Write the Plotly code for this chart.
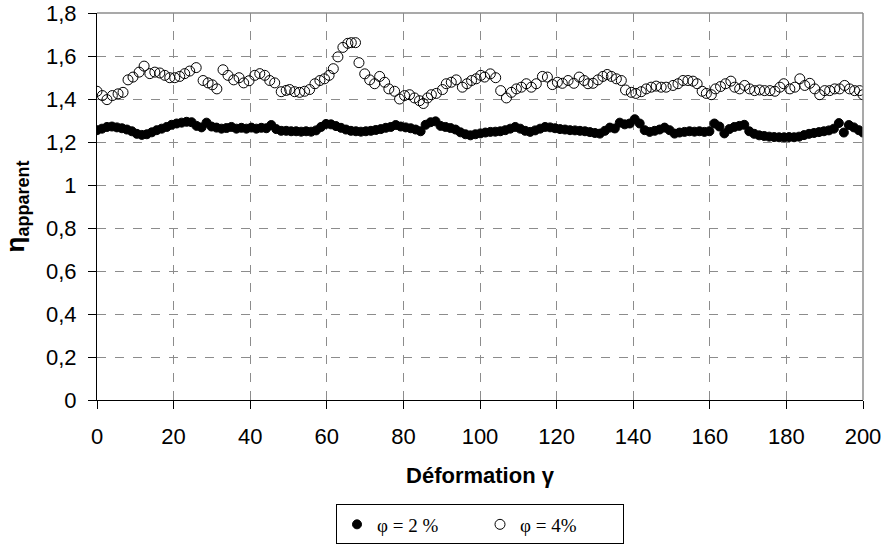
import plotly.graph_objects as go

# phi = 4 % (open circles)
gamma_4 = [
    0.0, 1.4, 2.6, 4.0, 5.5, 6.8, 8.1, 9.4, 11.0, 12.3, 13.8, 15.1, 16.4, 17.7, 19.0, 20.3,
    21.6, 22.9, 24.2, 25.9, 27.7, 29.0, 30.1, 31.3, 32.9, 34.2, 35.7, 37.1, 38.3, 39.7,
    41.2, 42.5, 43.8, 45.1, 46.4, 48.1, 49.4, 50.3, 51.6, 52.9, 54.2, 55.5, 56.9, 58.2,
    59.4, 60.6, 61.7, 62.9, 64.2, 65.5, 66.4, 67.5, 68.4, 69.9, 71.2, 72.5, 73.8, 75.1,
    76.2, 77.7, 79.0, 80.3, 81.6, 82.9, 84.2, 85.2, 86.3, 87.3, 88.6, 90.2, 91.2, 92.5,
    93.8, 95.4, 96.6, 97.8, 99.0, 100.2, 101.2, 102.7, 104.1, 105.4, 106.9, 108.2, 109.5,
    110.8, 112.1, 113.4, 114.7, 116.3, 117.6, 118.9, 120.2, 121.5, 123.0, 124.5, 125.9,
    127.2, 128.2, 129.5, 130.8, 132.1, 133.2, 134.3, 135.6, 136.9, 138.0, 139.5, 140.7,
    142.1, 143.4, 144.7, 146.0, 147.3, 148.6, 150.4, 151.7, 153.0, 154.3, 155.6, 156.7,
    158.0, 159.1, 160.4, 161.5, 162.8, 164.1, 165.5, 166.5, 167.8, 169.1, 170.4, 171.7,
    173.0, 174.3, 175.7, 177.0, 178.3, 179.3, 180.9, 182.2, 183.5, 184.8, 186.1, 187.4,
    188.7, 190.0, 191.3, 192.6, 193.9, 195.2, 196.5, 197.8, 199.1, 200.0,
]
eta_4 = [
    1.436, 1.416, 1.397, 1.416, 1.424, 1.431, 1.489, 1.502, 1.525, 1.553, 1.518, 1.525,
    1.521, 1.510, 1.499, 1.499, 1.505, 1.518, 1.530, 1.546, 1.486, 1.475, 1.466, 1.447,
    1.536, 1.510, 1.489, 1.499, 1.475, 1.485, 1.510, 1.518, 1.510, 1.486, 1.475, 1.434,
    1.440, 1.444, 1.434, 1.431, 1.436, 1.444, 1.471, 1.486, 1.494, 1.510, 1.541, 1.596,
    1.640, 1.659, 1.662, 1.662, 1.569, 1.517, 1.489, 1.471, 1.505, 1.478, 1.447, 1.436,
    1.400, 1.416, 1.420, 1.405, 1.392, 1.379, 1.405, 1.420, 1.426, 1.444, 1.471, 1.478,
    1.489, 1.455, 1.471, 1.486, 1.494, 1.510, 1.502, 1.517, 1.499, 1.439, 1.405, 1.431,
    1.447, 1.455, 1.471, 1.455, 1.471, 1.505, 1.502, 1.467, 1.478, 1.473, 1.486, 1.473,
    1.502, 1.486, 1.471, 1.473, 1.489, 1.505, 1.514, 1.505, 1.494, 1.486, 1.442, 1.431,
    1.426, 1.434, 1.447, 1.455, 1.460, 1.455, 1.455, 1.463, 1.471, 1.486, 1.486, 1.483,
    1.471, 1.436, 1.426, 1.420, 1.447, 1.458, 1.471, 1.483, 1.455, 1.447, 1.463, 1.447,
    1.439, 1.442, 1.439, 1.439, 1.436, 1.455, 1.471, 1.447, 1.455, 1.494, 1.463, 1.473,
    1.447, 1.420, 1.439, 1.439, 1.447, 1.447, 1.463, 1.447, 1.439, 1.439, 1.420,
]

# phi = 2 % (filled circles)
gamma_2 = [
    0.0, 1.3, 2.6, 3.9, 5.2, 6.5, 7.8, 9.1, 10.4, 11.7, 13.0, 14.3, 15.6, 16.9, 18.2, 19.5,
    20.8, 22.1, 23.4, 24.7, 26.0, 27.3, 28.6, 29.9, 31.2, 32.5, 33.8, 35.1, 36.4, 37.7,
    39.0, 40.3, 41.6, 42.9, 44.2, 45.5, 46.8, 48.1, 49.4, 50.7, 52.0, 53.3, 54.6, 55.9,
    57.2, 58.5, 59.8, 61.1, 62.4, 63.7, 65.0, 66.3, 67.6, 68.9, 70.2, 71.5, 72.8, 74.1,
    75.4, 76.7, 78.0, 79.3, 80.6, 81.9, 83.2, 84.5, 85.8, 87.1, 88.4, 89.7, 91.0, 92.3,
    93.6, 94.9, 96.2, 97.5, 98.8, 100.1, 101.4, 102.7, 104.0, 105.3, 106.6, 107.9, 109.2,
    110.5, 111.8, 113.1, 114.4, 115.7, 117.0, 118.3, 119.6, 120.9, 122.2, 123.5, 124.8,
    126.1, 127.4, 128.7, 130.0, 131.3, 132.6, 133.9, 135.2, 136.5, 137.8, 139.1, 140.4,
    141.7, 143.0, 144.3, 145.6, 146.9, 148.2, 149.5, 150.8, 152.1, 153.4, 154.7, 156.0,
    157.3, 158.6, 159.9, 161.2, 162.5, 163.8, 165.1, 166.4, 167.7, 169.0, 170.3, 171.6,
    172.9, 174.2, 175.5, 176.8, 178.1, 179.4, 180.7, 182.0, 183.3, 184.6, 185.9, 187.2,
    188.5, 189.8, 191.1, 192.4, 193.7, 195.0, 196.3, 197.6, 198.9, 200.0,
]
eta_2 = [
    1.255, 1.262, 1.270, 1.272, 1.268, 1.264, 1.258, 1.250, 1.238, 1.233, 1.236, 1.245,
    1.255, 1.262, 1.270, 1.280, 1.286, 1.290, 1.294, 1.292, 1.275, 1.268, 1.290, 1.272,
    1.267, 1.262, 1.265, 1.270, 1.262, 1.266, 1.262, 1.267, 1.262, 1.266, 1.264, 1.279,
    1.260, 1.252, 1.252, 1.250, 1.250, 1.248, 1.250, 1.248, 1.254, 1.270, 1.284, 1.282,
    1.274, 1.266, 1.258, 1.252, 1.250, 1.248, 1.250, 1.252, 1.256, 1.260, 1.266, 1.270,
    1.279, 1.272, 1.268, 1.264, 1.258, 1.250, 1.280, 1.292, 1.296, 1.275, 1.270, 1.265,
    1.258, 1.245, 1.236, 1.231, 1.236, 1.240, 1.244, 1.247, 1.248, 1.250, 1.255, 1.262,
    1.270, 1.262, 1.252, 1.247, 1.254, 1.262, 1.270, 1.268, 1.264, 1.260, 1.258, 1.255,
    1.254, 1.252, 1.250, 1.246, 1.242, 1.239, 1.252, 1.267, 1.263, 1.290, 1.282, 1.286,
    1.306, 1.286, 1.255, 1.247, 1.252, 1.258, 1.267, 1.255, 1.239, 1.244, 1.247, 1.250,
    1.248, 1.250, 1.247, 1.250, 1.286, 1.272, 1.240, 1.260, 1.270, 1.275, 1.280, 1.250,
    1.238, 1.231, 1.228, 1.225, 1.223, 1.222, 1.222, 1.223, 1.222, 1.225, 1.232, 1.238,
    1.242, 1.246, 1.250, 1.254, 1.262, 1.288, 1.244, 1.279, 1.268, 1.255, 1.244,
]

x_ticks = [0, 20, 40, 60, 80, 100, 120, 140, 160, 180, 200]
y_ticks = [0, 0.2, 0.4, 0.6, 0.8, 1.0, 1.2, 1.4, 1.6, 1.8]

SANS = "Arial, Liberation Sans, sans-serif"
SERIF = "Times New Roman, Liberation Serif, serif"

fig = go.Figure()

fig.add_trace(go.Scatter(
    x=gamma_2, y=eta_2, mode="markers", name="\u03c6 = 2 %",
    marker=dict(symbol="circle", size=9, color="black", line=dict(color="black", width=1)),
))
fig.add_trace(go.Scatter(
    x=gamma_4, y=eta_4, mode="markers", name="\u03c6 = 4%",
    marker=dict(symbol="circle-open", size=10, color="black", line=dict(width=1)),
))

grid = dict(showgrid=True, gridcolor="#8c8c8c", griddash="dash", gridwidth=1)

fig.update_xaxes(
    range=[0, 200], tickvals=x_ticks, zeroline=False, automargin=False,
    showline=True, linecolor="black", linewidth=1,
    ticks="outside", ticklen=8, tickcolor="black", ticklabelstandoff=9,
    ticklabeloverflow="allow",
    tickfont=dict(family=SANS, size=22, color="black"),
    title=dict(text="<b>Déformation γ</b>", standoff=19,
               font=dict(family=SANS, size=22, color="black")),
    **grid,
)
fig.update_yaxes(
    range=[0, 1.8], tickvals=y_ticks, zeroline=False, automargin=False,
    showline=True, linecolor="black", linewidth=1,
    ticks="outside", ticklen=8, tickcolor="black", ticklabelstandoff=7,
    ticklabeloverflow="allow",
    tickfont=dict(family=SANS, size=22, color="black"),
    title=dict(text="<b>η<sub><span style='font-size:18px'>apparent</span></sub></b>",
               standoff=23, font=dict(family=SANS, size=26, color="black")),
    **grid,
)

# grey frame on the top and right of the plotting area
border = dict(color="#8c8c8c", width=1.5)
fig.add_shape(type="line", xref="x domain", yref="y domain", x0=1, x1=1, y0=0, y1=1, line=border)
fig.add_shape(type="line", xref="x domain", yref="y domain", x0=0, x1=1, y0=1, y1=1, line=border)

fig.update_layout(
    width=887, height=557,
    margin=dict(l=97, r=24, t=13, b=149),
    plot_bgcolor="white", paper_bgcolor="white",
    separators=", ",
    showlegend=True,
    legend=dict(
        orientation="h", x=0.5, xanchor="center", y=-0.27, yanchor="top",
        bordercolor="black", borderwidth=1, bgcolor="white",
        font=dict(family=SERIF, size=19, color="black"),
        itemwidth=30, entrywidth=98, tracegroupgap=0,
    ),
)

fig.write_html(
    "out.html",
    config={"displayModeBar": False},
    post_script="document.body.style.margin='0px';document.body.style.overflow='hidden';",
)
